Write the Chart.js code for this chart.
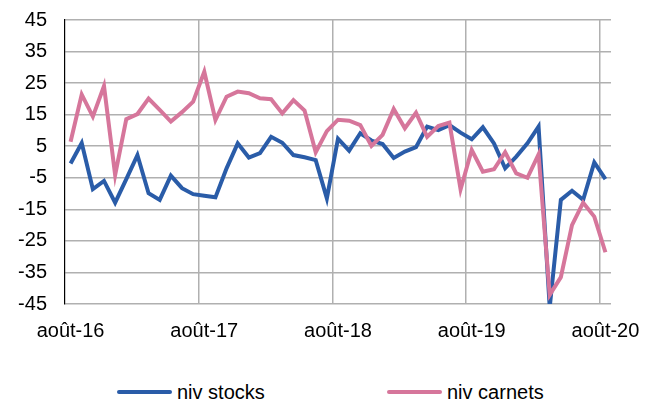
<!DOCTYPE html>
<html lang="fr">
<head>
<meta charset="utf-8">
<script src="https://cdn.jsdelivr.net/npm/chart.js@4.4.1/dist/chart.umd.min.js"></script>
<style>
  html, body { margin: 0; padding: 0; background: #fff; }
  #wrap { position: relative; width: 656px; height: 405px; }
  #chart { position: absolute; left: 0; top: 0; }
  #legend { position: absolute; left: 0; top: 380px; width: 656px; height: 24px;
            font: 20px "Liberation Sans", Arial, sans-serif; color: #000; }
  .item { position: absolute; top: 0; height: 24px; display: flex; align-items: center; white-space: nowrap; }
  .swatch { width: 55px; height: 4px; border-radius: 2px; margin-right: 5px; }
</style>
</head>
<body>
<div id="wrap">
  <canvas id="chart" width="656" height="345"></canvas>
  <div id="legend"></div>
</div>
<script>
// mois (août 2016 -> août 2020)
const monthNames = ['août', 'sept.', 'oct.', 'nov.', 'déc.', 'janv.', 'févr.', 'mars', 'avr.', 'mai', 'juin', 'juil.'];
const tickLabels = ['août-16', 'août-17', 'août-18', 'août-19', 'août-20'];

const nivStocks = [
  -0.5, 6, -8.6, -6, -12.9, -5.4, 2.2, -9.9, -12, -4.3, -8.3, -10.2,
  -10.7, -11.2, -2, 5.9, 1.4, 2.8, 8, 6.1, 2.2, 1.5, 0.6, -11.5,
  7.4, 3.6, 9.1, 6.8, 5.7, 1.3, 3.3, 4.7, 11.2, 10.1, 11.7, 9.3,
  7.2, 11, 5.9, -2, 1.7, 5.9, 11.2, -46, -12, -9.1, -12, -0.1,
  -5.4
];
const nivCarnets = [
  6.4, 21.4, 14.4, 24.1, -4.1, 13.6, 15.2, 20.1, 16.5, 12.8, 15.8, 19.1,
  28.6, 13.3, 20.7, 22.3, 21.8, 20.2, 19.9, 15.4, 19.6, 16.3, 3.1, 9.8,
  13.4, 13.1, 11.7, 5.1, 8.6, 16.8, 10.7, 15.6, 8, 11.4, 12.5, -8.7,
  3.8, -3.1, -2.3, 3.1, -3.6, -5, 2.4, -42.1, -36.5, -20, -12.9, -17.3,
  -28.6
];

const labels = [];
for (let i = 0; i < nivStocks.length; i++) {
    const yr = 16 + Math.floor((i + 7) / 12);
    labels.push(monthNames[i % 12] + '-' + yr);
}

const BLUE = '#2a5ca8';
const PINK = '#d6769b';
const GRID = '#b0b0b0';

Chart.defaults.font.family = '"Liberation Sans", Arial, sans-serif';
Chart.defaults.font.size = 20;
Chart.defaults.color = '#000';

new Chart(document.getElementById('chart').getContext('2d'), {
    type: 'line',
    data: {
        labels: labels,
        datasets: [
            { label: 'niv stocks', data: nivStocks, borderColor: BLUE, backgroundColor: BLUE,
              borderWidth: 4, pointRadius: 0, tension: 0, order: 1 },
            { label: 'niv carnets', data: nivCarnets, borderColor: PINK, backgroundColor: PINK,
              borderWidth: 4, pointRadius: 0, tension: 0, order: 0 }
        ]
    },
    options: {
        responsive: false,
        animation: false,
        layout: { padding: { top: 20, right: 45, left: 0, bottom: 0 } },
        plugins: {
            legend: { display: false },
            tooltip: { enabled: false }
        },
        scales: {
            x: {
                offset: true,
                afterFit: (s) => { s.height = 41; },
                grid: {
                    offset: true,
                    drawTicks: false,
                    lineWidth: 1.5,
                    color: (ctx) => (ctx.index > 0 && ctx.index % 12 === 0) ? GRID : 'rgba(0,0,0,0)'
                },
                border: { display: false },
                ticks: {
                    autoSkip: false,
                    maxRotation: 0,
                    minRotation: 0,
                    padding: 15,
                    callback: function (v, i) {
                        const l = labels[i];
                        return tickLabels.includes(l) ? l : '';
                    }
                }
            },
            y: {
                min: -45,
                max: 45,
                afterFit: (s) => {
                    s.width = 65;
                    // la marge des libellés ne doit pas pousser la zone du graphique
                    s.paddingTop = 12;
                    s.paddingBottom = 12;
                },
                grid: {
                    drawTicks: false,
                    lineWidth: (ctx) => ctx.tick && ctx.tick.value === 0 ? 1.2 : 1.5,
                    color: (ctx) => ctx.tick && ctx.tick.value === 0 ? '#000' : GRID
                },
                border: { display: true, color: '#000', width: 1.2 },
                ticks: { stepSize: 10, padding: 18 }
            }
        }
    }
});

// légende en bas
const legendItems = [
    { text: 'niv stocks', color: BLUE, left: 117 },
    { text: 'niv carnets', color: PINK, left: 387 }
];
const legendEl = document.getElementById('legend');
legendItems.forEach(it => {
    const div = document.createElement('div');
    div.className = 'item';
    div.style.left = it.left + 'px';
    div.innerHTML = `<span class="swatch" style="background:${it.color}"></span><span>${it.text}</span>`;
    legendEl.appendChild(div);
});
</script>
</body>
</html>
